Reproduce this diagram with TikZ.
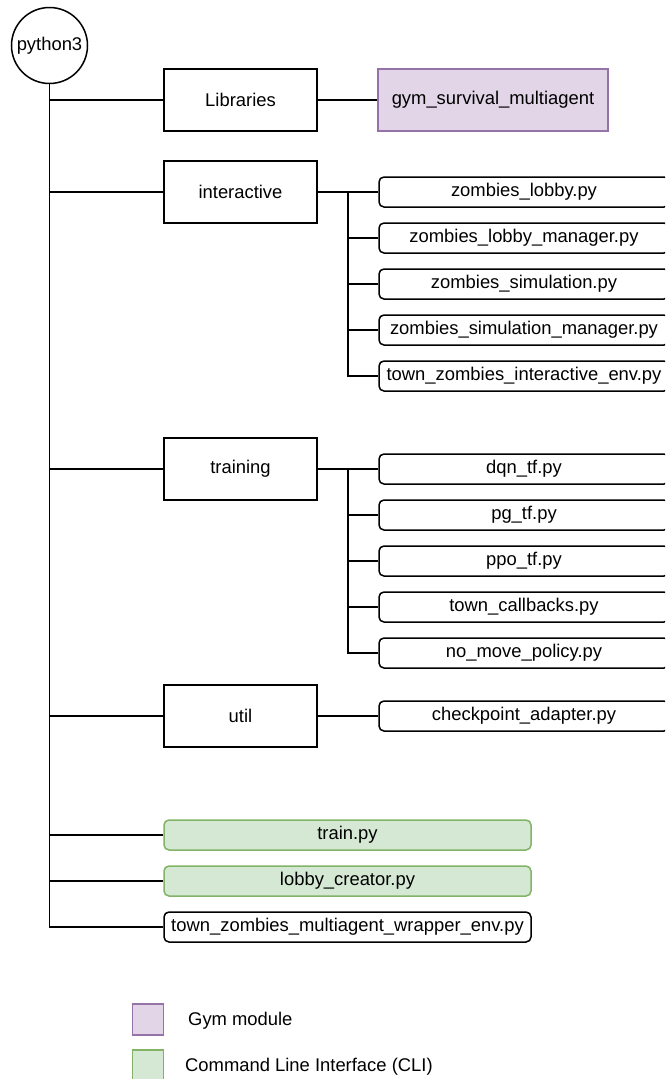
\documentclass[tikz,border=0pt]{standalone}
\usepackage{fontspec}
\setmainfont{Liberation Sans}
\begin{document}
\begin{tikzpicture}[x=1pt,y=-1pt,
  every node/.style={font=\fontsize{18.4}{21}\selectfont, inner sep=0pt},
  line/.style={line width=1.5pt, draw=black},
  folder/.style={draw=black, line width=1.5pt, fill=white, minimum width=153pt, minimum height=62pt},
  gymbox/.style={draw=gymline, line width=1.5pt, fill=gymfill, minimum width=230pt, minimum height=62pt},
  filebox/.style={draw=black, line width=1.5pt, fill=white, rounded corners=5pt, minimum width=290pt, minimum height=30pt},
  topbox/.style={draw=black, line width=1.5pt, fill=white, rounded corners=5pt, minimum width=367pt, minimum height=30pt},
  clibox/.style={topbox, draw=cliline, fill=clifill},
  legendsq/.style={line width=1.5pt, minimum width=31pt, minimum height=31pt}
]
\definecolor{gymfill}{HTML}{E1D5E7}
\definecolor{gymline}{HTML}{9673A6}
\definecolor{clifill}{HTML}{D5E8D4}
\definecolor{cliline}{HTML}{82B366}
\useasboundingbox (0,0) rectangle (665,1079);
\clip (0,0) rectangle (665,1079);
\fill[white] (0,0) rectangle (665,1079);

% root
\node[draw=black, line width=1.5pt, circle, minimum size=76pt, fill=white] (py) at (49.5,45.5) {python3};

% folders
\node[folder] (lib) at (240.5,100) {Libraries};
\node[gymbox] (gym) at (493,100) {gym\_survival\_multiagent};
\node[folder] (int) at (240.5,192) {interactive};
\node[folder] (trn) at (240.5,469) {training};
\node[folder] (utl) at (240.5,716) {util};

% interactive files
\node[filebox] (i1) at (524,192) {zombies\_lobby.py};
\node[filebox] (i2) at (524,238) {zombies\_lobby\_manager.py};
\node[filebox] (i3) at (524,284) {zombies\_simulation.py};
\node[filebox] (i4) at (524,330) {zombies\_simulation\_manager.py};
\node[filebox] (i5) at (524,376) {town\_zombies\_interactive\_env.py};

% training files
\node[filebox] (t1) at (524,469) {dqn\_tf.py};
\node[filebox] (t2) at (524,515) {pg\_tf.py};
\node[filebox] (t3) at (524,561) {ppo\_tf.py};
\node[filebox] (t4) at (524,607) {town\_callbacks.py};
\node[filebox] (t5) at (524,653) {no\_move\_policy.py};

% util file
\node[filebox] (u1) at (524,716) {checkpoint\_adapter.py};

% top-level files
\node[clibox] (train) at (347.5,835) {train.py};
\node[clibox] (lobby) at (347.5,881) {lobby\_creator.py};
\node[topbox] (wrap) at (347.5,927) {town\_zombies\_multiagent\_wrapper\_env.py};

% trunk
\draw[line] (py.south) |- (wrap.west);
\foreach \n in {lib,int,trn,utl,train,lobby}{
  \draw[line] (py.south |- \n) -- (\n.west);
}
\draw[line] (lib.east) -- (gym.west);
\draw[line] (utl.east) -- (u1.west);

% interactive branch
\coordinate (ij) at (348,192);
\draw[line] (int.east) -- (i1.west);
\draw[line] (ij) |- (i5.west);
\foreach \n in {i2,i3,i4}{
  \draw[line] (ij |- \n) -- (\n.west);
}

% training branch
\coordinate (tj) at (348,469);
\draw[line] (trn.east) -- (t1.west);
\draw[line] (tj) |- (t5.west);
\foreach \n in {t2,t3,t4}{
  \draw[line] (tj |- \n) -- (\n.west);
}

% legend
\node[legendsq, draw=gymline, fill=gymfill] (lg1) at (148,1019.5) {};
\node[anchor=west] (lt1) at (188,1021) {Gym module};
\node[legendsq, draw=cliline, fill=clifill] (lg2) at (148,1065.5) {};
\node[anchor=west] (lt2) at (185,1067) {Command Line Interface (CLI)};
\end{tikzpicture}
\end{document}
